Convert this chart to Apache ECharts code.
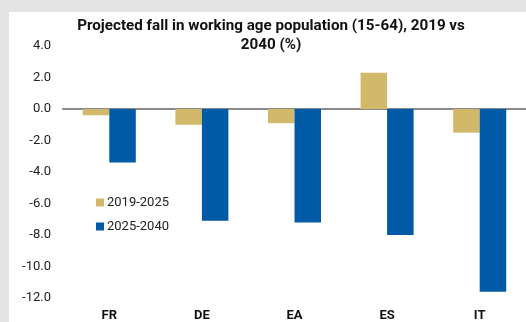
<!DOCTYPE html>
<html>
<head>
<meta charset="utf-8">
<script src="https://cdn.jsdelivr.net/npm/echarts@6/dist/echarts.min.js"></script>
<style>
  html, body { margin: 0; padding: 0; background: #e4e4e4; width: 526px; height: 322px; overflow: hidden; }
  #chart { position: absolute; left: 9px; top: 12px; width: 517px; height: 310px; background: #ffffff; }
</style>
</head>
<body>
<div id="chart"></div>
<script>
// Working age population change by country, percent
const countries = ['FR', 'DE', 'EA', 'ES', 'IT'];
const change2019to2025 = [-0.4, -1.0, -0.9, 2.3, -1.5];
const change2025to2040 = [-3.4, -7.1, -7.2, -8.0, -11.6];
const yTicks = { min: -12, max: 4, step: 2 };

const FONT = '"Roboto", sans-serif';

const chart = echarts.init(document.getElementById('chart'), null, { renderer: 'canvas' });
chart.setOption({
  animation: false,
  textStyle: { fontFamily: FONT },
  title: {
    text: 'Projected fall in working age population (15-64), 2019 vs\n2040 (%)',
    left: 262,
    top: 5,
    padding: 0,
    textAlign: 'center',
    textStyle: { fontFamily: FONT, fontSize: 15.2, fontWeight: 'bold', color: '#111', lineHeight: 19 }
  },
  legend: {
    orient: 'vertical',
    left: 87,
    top: 184,
    padding: 0,
    itemWidth: 8,
    itemHeight: 8,
    itemGap: 11,
    icon: 'rect',
    textStyle: { fontFamily: FONT, fontSize: 13, color: '#222', padding: [0, 0, 0, -2] },
    data: ['2019-2025', '2025-2040']
  },
  grid: { left: 54, right: 0, top: 34, bottom: 24, containLabel: false },
  xAxis: [
    {
      type: 'category',
      data: countries,
      position: 'bottom',
      axisLine: { show: true, onZero: true, lineStyle: { color: '#8a8a8a', width: 2 } },
      axisTick: { show: false },
      axisLabel: { show: false }
    },
    {
      type: 'category',
      data: countries,
      position: 'bottom',
      axisLine: { show: false, onZero: false },
      axisTick: { show: false },
      axisLabel: { show: true, margin: 11, fontFamily: FONT, fontSize: 13, fontWeight: 'bold', color: '#111' }
    }
  ],
  yAxis: {
    type: 'value',
    min: yTicks.min,
    max: yTicks.max,
    interval: yTicks.step,
    splitLine: { show: false },
    axisLine: { show: false },
    axisTick: { show: false },
    axisLabel: {
      margin: 12,
      fontFamily: FONT,
      fontSize: 13,
      color: '#222',
      formatter: v => v.toFixed(1)
    }
  },
  series: [
    {
      name: '2019-2025',
      type: 'bar',
      xAxisIndex: 0,
      data: change2019to2025,
      barWidth: 26.5,
      barGap: '0%',
      itemStyle: { color: '#D2B86A' }
    },
    {
      name: '2025-2040',
      type: 'bar',
      xAxisIndex: 0,
      data: change2025to2040,
      barWidth: 26.5,
      barGap: '0%',
      itemStyle: { color: '#005AA5' }
    }
  ]
});
</script>
</body>
</html>
